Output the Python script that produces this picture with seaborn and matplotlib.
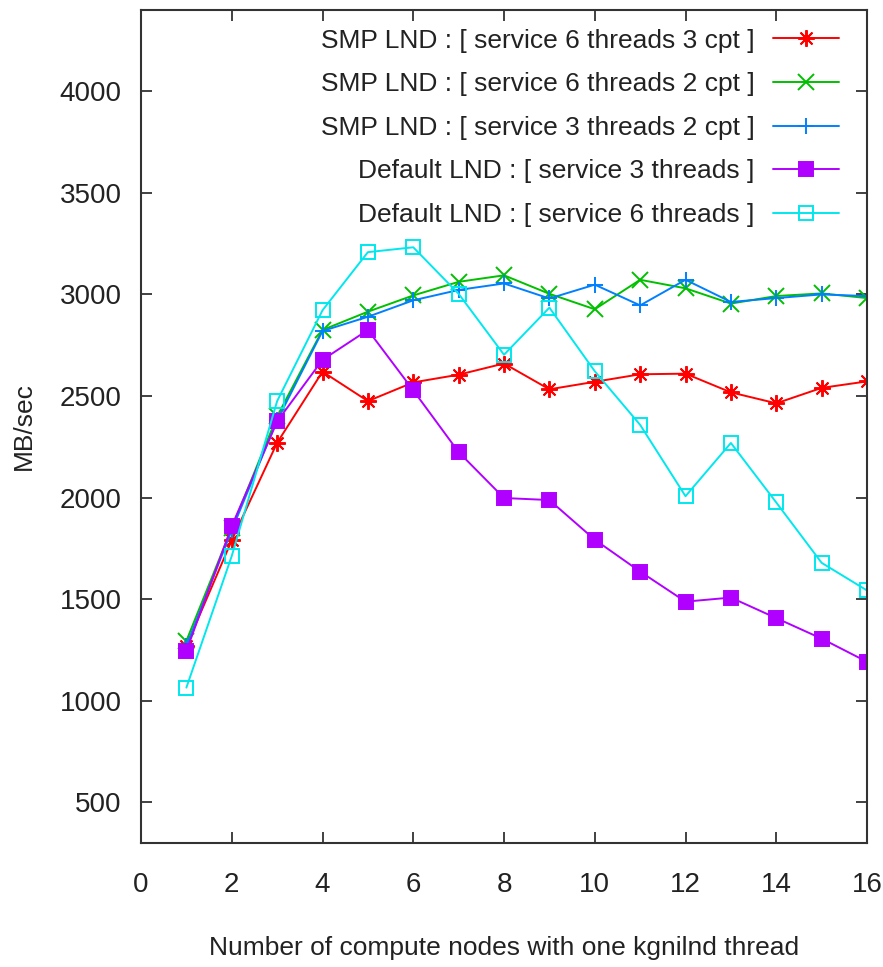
import matplotlib
matplotlib.use("Agg")
import matplotlib.pyplot as plt
import numpy as np
import pandas as pd
import seaborn as sns

nodes = list(range(1, 17))

smp_6t_3cpt = [1270, 1790, 2270, 2620, 2475, 2567, 2605, 2660, 2533, 2570,
               2607, 2610, 2518, 2464, 2540, 2572]
smp_6t_2cpt = [1295, 1850, 2400, 2825, 2915, 2995, 3062, 3094, 3003, 2927,
               3072, 3030, 2955, 2992, 3005, 2982]
smp_3t_2cpt = [1270, 1840, 2380, 2820, 2890, 2971, 3022, 3054, 2980, 3048,
               2946, 3072, 2963, 2982, 3000, 2992]
default_3t = [1245, 1860, 2375, 2678, 2825, 2528, 2224, 1998, 1988, 1793,
              1636, 1488, 1508, 1407, 1306, 1192]
default_6t = [1065, 1713, 2475, 2922, 3208, 3232, 3003, 2703, 2935, 2622,
              2358, 2007, 2269, 1976, 1679, 1543]

labels = [
    "SMP LND : [ service 6 threads 3 cpt ]",
    "SMP LND : [ service 6 threads 2 cpt ]",
    "SMP LND : [ service 3 threads 2 cpt ]",
    "Default LND : [ service 3 threads ]",
    "Default LND : [ service 6 threads ]",
]
series = [smp_6t_3cpt, smp_6t_2cpt, smp_3t_2cpt, default_3t, default_6t]
colors = ["#ff0000", "#00c000", "#0080ff", "#b000ff", "#00e8ee"]
markers = [(8, 2, 0), "x", "+", "s", "s"]
filled = [True, True, True, True, False]

x_ticks = list(range(0, 17, 2))
y_ticks = [500, 1000, 1500, 2000, 2500, 3000, 3500, 4000]

sns.set_theme(style="ticks")
plt.rcParams["font.family"] = ["Liberation Sans", "DejaVu Sans"]

text_color = "#222222"

fig = plt.figure(figsize=(8.83, 9.67), dpi=100)
ax = fig.add_axes([0.1597, 0.1282, 0.8222, 0.8615])

for vals, lab, col, mk, fl in zip(series, labels, colors, markers, filled):
    df = pd.DataFrame({"nodes": nodes, "rate": vals})
    sns.lineplot(data=df, x="nodes", y="rate", ax=ax, color=col, label=lab,
                 marker=mk, markersize=10 if mk == "s" else 12,
                 markeredgewidth=1.4,
                 markerfacecolor=col if fl else "none",
                 markeredgecolor=col, linewidth=1.4)

ax.set_xlim(0, 16)
ax.set_ylim(300, 4400)
ax.set_xticks(x_ticks)
ax.set_yticks(y_ticks)

for side in ["top", "right", "left", "bottom"]:
    ax.spines[side].set_visible(True)
    ax.spines[side].set_color("#333333")
    ax.spines[side].set_linewidth(1.5)

ax.tick_params(axis="both", direction="in", length=8, width=1.3,
               top=True, right=True, colors="#333333",
               labelcolor=text_color, labelsize=20)
ax.tick_params(axis="x", pad=21)
ax.tick_params(axis="y", pad=14)

ax.set_xlabel("Number of compute nodes with one kgnilnd thread",
              fontsize=19, color=text_color, labelpad=27)
ax.set_ylabel("MB/sec", fontsize=19, color=text_color)
ax.yaxis.set_label_coords(-0.145, 0.5)

ax.legend(loc="upper right", bbox_to_anchor=(0.994, 1.006), frameon=False,
          markerfirst=False, fontsize=19, handlelength=2.5,
          handletextpad=0.7, labelspacing=0.74, labelcolor=text_color)

fig.savefig("out.png", dpi=100)
